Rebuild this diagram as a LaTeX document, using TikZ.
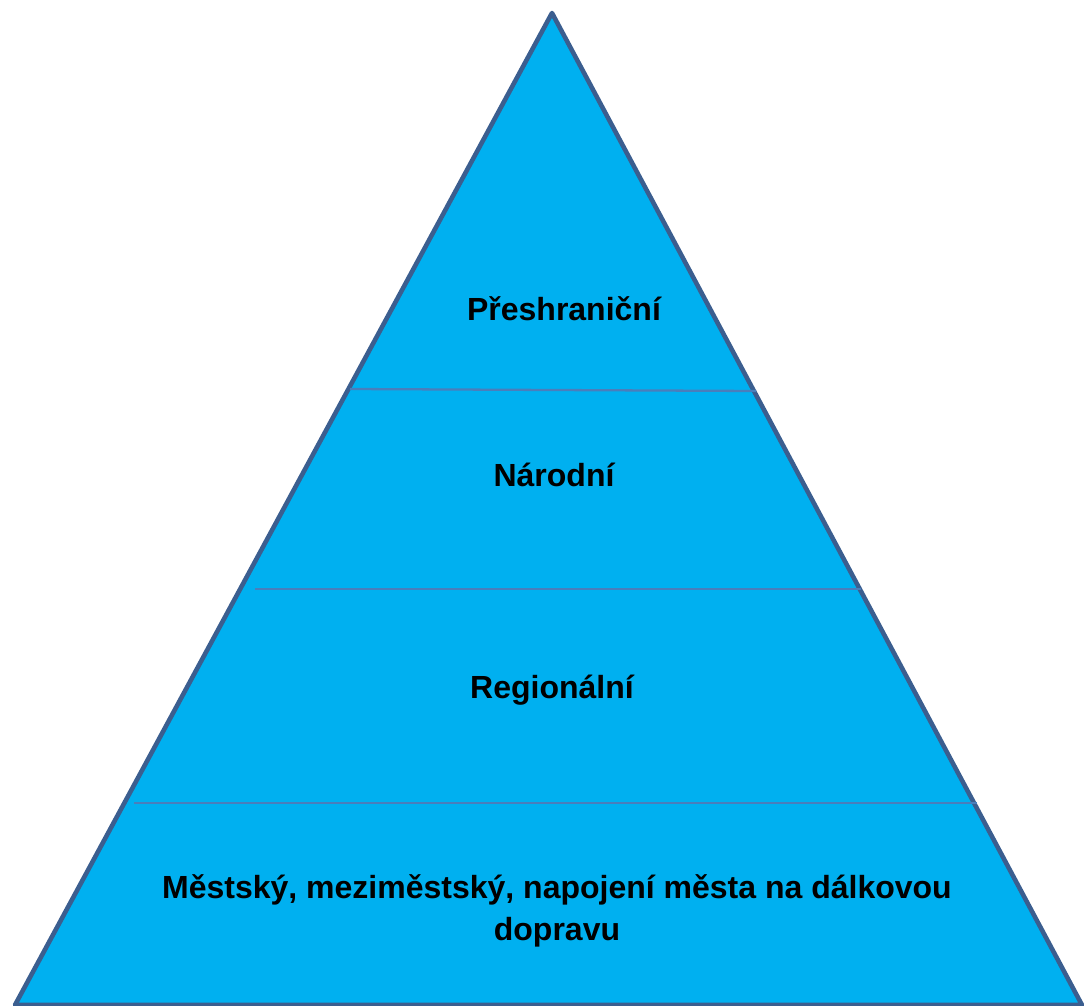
\documentclass[tikz,border=0pt]{standalone}
\usepackage{fontspec}
\setmainfont{Liberation Sans}
\definecolor{pyrfill}{HTML}{00B0F0}
\definecolor{pyredge}{HTML}{3B5E8F}
\definecolor{pyrline}{HTML}{4A7EBB}
\begin{document}
\begin{tikzpicture}[x=0.01cm,y=-0.01cm,
  level/.style={font=\fontsize{9.1pt}{11.95pt}\selectfont\bfseries, align=center, text=black, inner sep=0pt},
  divider/.style={draw=pyrline, line width=0.65pt}]
\useasboundingbox (0,0) rectangle (1084,1006);
% pyramid outline
\coordinate (apex) at (552,13);
\coordinate (bl) at (15,1005);
\coordinate (br) at (1082,1005);
\filldraw[fill=pyrfill, draw=pyredge, line width=1.3pt, line join=round] (apex) -- (br) -- (bl) -- cycle;
% tier dividers
\coordinate (d1l) at (350,389);
\coordinate (d1r) at (756,391);
\coordinate (d2l) at (255,589);
\coordinate (d2r) at (861,589);
\coordinate (d3l) at (134,803);
\coordinate (d3r) at (977,803);
\draw[divider] (d1l) -- (d1r);
\draw[divider] (d2l) -- (d2r);
\draw[divider] (d3l) -- (d3r);
% tier labels
\node[level] (t1) at (564,309) {Přeshraniční};
\node[level] (t2) at (554,475) {Národní};
\node[level] (t3) at (552,690) {Regionální};
\node[level] (t4) at (557,911) {Městský, meziměstský, napojení města na dálkovou\\dopravu};
\end{tikzpicture}
\end{document}
